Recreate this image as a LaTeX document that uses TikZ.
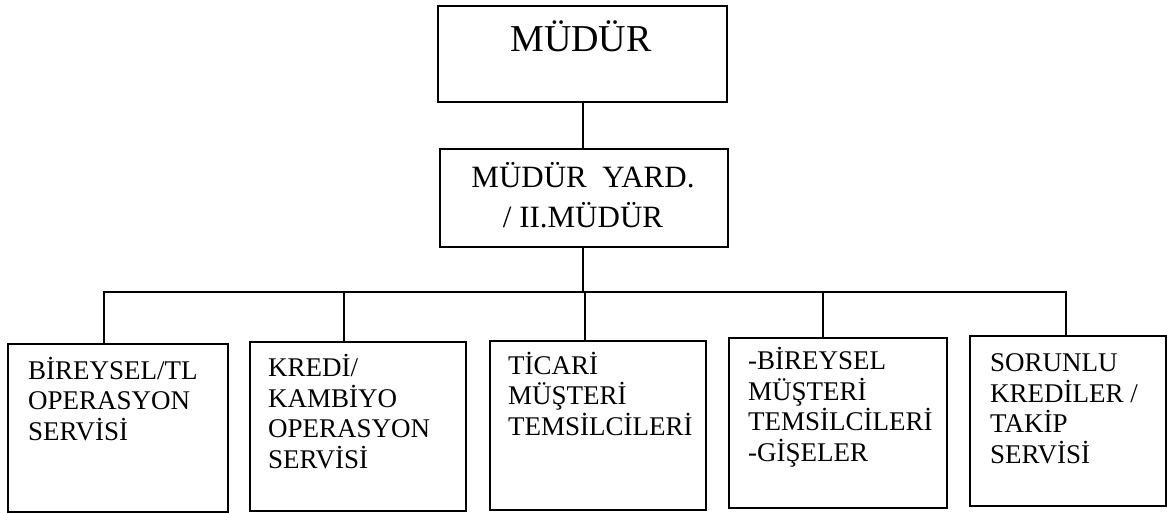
\documentclass[tikz,border=0pt]{standalone}
\usepackage{fontspec}
\setmainfont{Liberation Serif}
\usetikzlibrary{calc}
\begin{document}
\begin{tikzpicture}[x=1pt,y=-1pt,
  box/.style={draw,line width=2.2pt,inner sep=0pt,anchor=north west},
  wire/.style={line width=2.2pt},
  % multi-line text is placed by the baseline of its last line
  unittext/.style={anchor=base west,align=left,inner sep=0pt,font=\fontsize{27}{30.5}\selectfont}]
\useasboundingbox (0,0) rectangle (1167,513);
% boxes
\node[box,minimum width=289pt,minimum height=96pt] (mudur) at (437,5) {};
\node[box,minimum width=288pt,minimum height=98pt] (yard) at (439,148) {};
\node[box,minimum width=220pt,minimum height=168pt] (b1) at (7,343) {};
\node[box,minimum width=216pt,minimum height=169pt] (b2) at (249,341) {};
\node[box,minimum width=216pt,minimum height=169pt] (b3) at (489,340) {};
\node[box,minimum width=218pt,minimum height=170pt] (b4) at (728,337) {};
\node[box,minimum width=196pt,minimum height=170pt] (b5) at (969,335) {};
% texts
\node[anchor=base,inner sep=0pt,font=\fontsize{38}{40}\selectfont] (tm) at (581,52) {MÜDÜR};
\node[anchor=base,inner sep=0pt,font=\fontsize{31}{39}\selectfont] (ty1) at (583,188) {MÜDÜR\hspace{0.5em}YARD.};
\node[anchor=base,inner sep=0pt,font=\fontsize{31}{39}\selectfont] (ty2) at (583,227) {/ II.MÜDÜR};
\node[unittext] (t1) at ($(b1.north west)+(21,97)$) {BİREYSEL/TL\\OPERASYON\\SERVİSİ};
\node[unittext] (t2) at ($(b2.north west)+(19,127)$) {KREDİ/\\KAMBİYO\\OPERASYON\\SERVİSİ};
\node[unittext] (t3) at ($(b3.north west)+(19,95)$) {TİCARİ\\MÜŞTERİ\\TEMSİLCİLERİ};
\node[unittext] (t4) at ($(b4.north west)+(20,124)$) {-BİREYSEL\\MÜŞTERİ\\TEMSİLCİLERİ\\-GİŞELER};
\node[unittext] (t5) at ($(b5.north west)+(21,128)$) {SORUNLU\\KREDİLER /\\TAKİP\\SERVİSİ};
% connectors
\coordinate (bus) at (583,292);
\coordinate (s1) at (104,292);
\coordinate (s2) at (344,292);
\coordinate (s3) at (585,292);
\coordinate (s4) at (823,292);
\coordinate (s5) at (1066,292);
\draw[wire] (mudur.south) -- (mudur.south |- yard.north);
\draw[wire] (bus |- yard.south) -- (bus);
\draw[wire,line cap=rect] (s1) -- (s5);
\draw[wire] (s1) -- (s1 |- b1.north);
\draw[wire] (s2) -- (s2 |- b2.north);
\draw[wire] (s3) -- (s3 |- b3.north);
\draw[wire] (s4) -- (s4 |- b4.north);
\draw[wire] (s5) -- (s5 |- b5.north);
\end{tikzpicture}
\end{document}
